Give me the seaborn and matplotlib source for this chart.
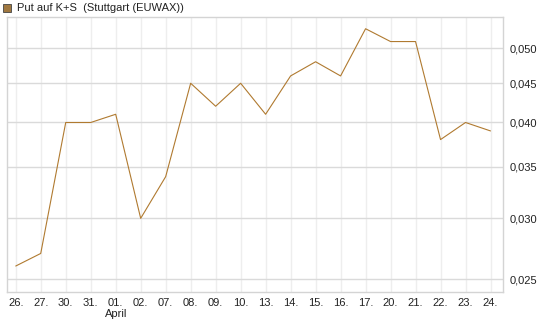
import numpy as np
import pandas as pd
import seaborn as sns
import matplotlib.pyplot as plt
from matplotlib.ticker import FixedLocator, FuncFormatter, NullLocator
from matplotlib.patches import Rectangle

days = ["26.", "27.", "30.", "31.", "01.", "02.", "07.", "08.", "09.", "10.",
        "13.", "14.", "15.", "16.", "17.", "20.", "21.", "22.", "23.", "24."]
prices = [0.026, 0.027, 0.040, 0.040, 0.041, 0.030, 0.034, 0.045, 0.042, 0.045,
          0.041, 0.046, 0.048, 0.046, 0.053, 0.051, 0.051, 0.038, 0.040, 0.039]
yticks = [0.025, 0.030, 0.035, 0.040, 0.045, 0.050]

sns.set_theme(style="white")
plt.rcParams['font.family'] = ['Liberation Sans', 'DejaVu Sans']

df = pd.DataFrame({"pos": np.arange(len(days)), "price": prices})

fig = plt.figure(figsize=(5.45, 3.27), dpi=100)
ax = fig.add_axes([7 / 545, 1 - 292 / 327, 496 / 545, 275 / 327])

sns.lineplot(data=df, x="pos", y="price", ax=ax, color="#b07a30", linewidth=0.8)

ax.set_yscale("log")
ax.set_ylim(0.02405, 0.0549)
ax.set_xlim(-0.35, len(days) - 0.5)
ax.yaxis.set_major_locator(FixedLocator(yticks))
ax.yaxis.set_minor_locator(NullLocator())
ax.yaxis.set_major_formatter(FuncFormatter(lambda v, p: f"{v:.3f}".replace(".", ",")))
ax.yaxis.tick_right()
ax.set_xticks(range(len(days)))
ax.set_xticklabels([d if d != "01." else "01.\nApril" for d in days])
for lbl in ax.get_xticklabels():
    lbl.set_verticalalignment("top")
ax.tick_params(axis="both", length=0, labelsize=8, colors="#222222")
ax.tick_params(axis="x", pad=4)
ax.tick_params(axis="y", pad=5)
ax.set_xlabel("")
ax.set_ylabel("")

ax.grid(axis="x", color="#eeeeee", linewidth=1)
ax.grid(axis="y", color="#dadada", linewidth=1)
ax.set_axisbelow(True)
for s in ax.spines.values():
    s.set_color("#d4d4d4")
    s.set_linewidth(1)

fig.patches.append(Rectangle((3 / 545, 1 - 12 / 327), 8 / 545, 8 / 327,
                             transform=fig.transFigure, facecolor="#a07840",
                             edgecolor="#444444", linewidth=0.6))
fig.text(17 / 545, 1 - 8 / 327, "Put auf K+S  (Stuttgart (EUWAX))",
         fontsize=8, va="center", ha="left", color="#222222")

fig.savefig("out.png", dpi=100)
